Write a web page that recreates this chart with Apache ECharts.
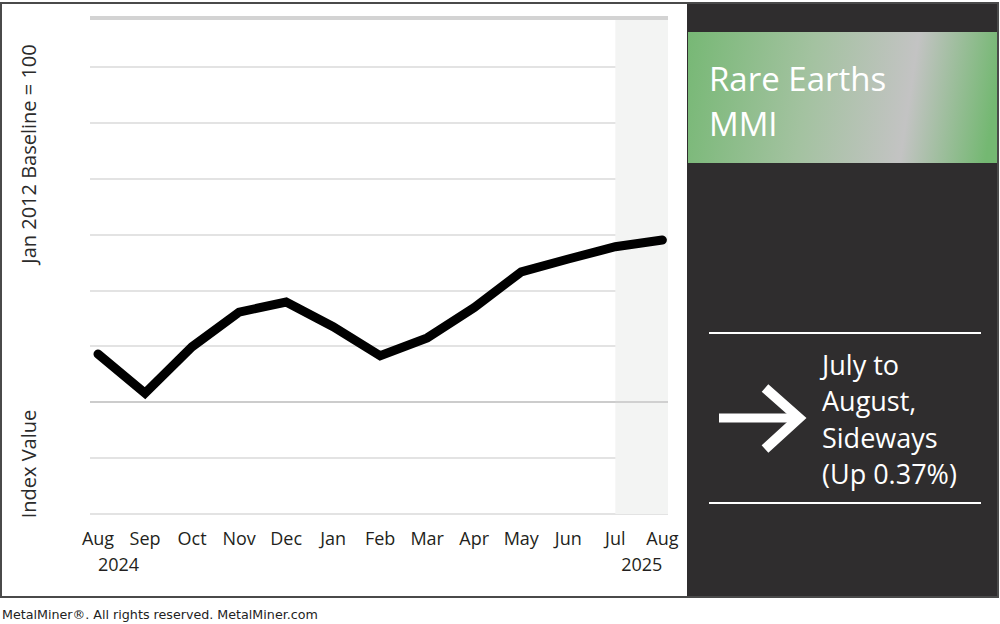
<!DOCTYPE html>
<html>
<head>
<meta charset="utf-8">
<script src="https://cdn.jsdelivr.net/npm/echarts@6/dist/echarts.min.js"></script>
<style>
html,body{margin:0;padding:0;background:#fff;}
#chart{width:1000px;height:624px;}
</style>
</head>
<body>
<div id="chart"></div>
<script>
// ---- data ----
const months = ['Aug','Sep','Oct','Nov','Dec','Jan','Feb','Mar','Apr','May','Jun','Jul','Aug'];
const years = ['2024','','','','','','','','','','','','2025'];
const indexValues = [28.6, 21.6, 29.9, 36.1, 37.9, 33.5, 28.3, 31.5, 36.9, 43.3, 45.6, 47.8, 49.0];
const titleLines = ['Rare Earths', 'MMI'];
const noteLines = ['July to', 'August,', 'Sideways', '(Up 0.37%)'];
const yTitleTop = 'Jan 2012 Baseline = 100';
const yTitleBottom = 'Index Value';
const footer = 'MetalMiner\u00AE. All rights reserved. MetalMiner.com';
const highlightFrom = 11; // Jul

const seriesData = indexValues.map((v, i) => [i, v]);
const yearTicks = years.map((y, i) => y ? i : null).filter(v => v !== null);
const X_MIN = -0.17, X_MAX = 12.12, Y_MAX = 88.7;

const chart = echarts.init(document.getElementById('chart'), null, {renderer: 'svg'});

const graphics = [
  {type: 'rect', z: 50, shape: {x: 687, y: 3, width: 311, height: 595}, style: {fill: '#2f2d2e'}},
  {type: 'rect', z: 51, shape: {x: 688, y: 32, width: 310, height: 131},
    style: {fill: new echarts.graphic.LinearGradient(688, 32, 998, 79, [
      {offset: 0, color: '#77b875'},
      {offset: 0.4, color: '#a3c2a0'},
      {offset: 0.73, color: '#c3c3c3'},
      {offset: 1, color: '#74b872'}
    ], true)}},
  {type: 'rect', z: 60, shape: {x: 1, y: 3, width: 997, height: 594}, style: {fill: 'none', stroke: '#4a4a4a', lineWidth: 2}},
  {type: 'line', z: 52, shape: {x1: 709, y1: 333, x2: 981, y2: 333}, style: {stroke: '#ffffff', lineWidth: 2}},
  {type: 'line', z: 52, shape: {x1: 709, y1: 503, x2: 981, y2: 503}, style: {stroke: '#ffffff', lineWidth: 2}},
  {type: 'line', z: 52, shape: {x1: 719, y1: 418, x2: 797, y2: 418}, style: {stroke: '#ffffff', lineWidth: 9}},
  {type: 'polyline', z: 52, shape: {points: [[765, 388], [799, 418], [765, 449]]}, style: {stroke: '#ffffff', lineWidth: 10, fill: 'none', lineJoin: 'miter'}},
  {type: 'text', z: 55, x: 28, y: 154, rotation: Math.PI / 2,
    style: {text: yTitleTop, font: '20px "Open Sans"', fill: '#2b2b2b', align: 'center', verticalAlign: 'middle'}},
  {type: 'text', z: 55, x: 28, y: 464, rotation: Math.PI / 2,
    style: {text: yTitleBottom, font: '20px "Open Sans"', fill: '#2b2b2b', align: 'center', verticalAlign: 'middle'}},
  {type: 'text', z: 55, x: 2, y: 614,
    style: {text: footer, font: '12.7px "DejaVu Sans"', fill: '#222', align: 'left', verticalAlign: 'middle'}}
];
titleLines.forEach((t, i) => graphics.push({type: 'text', z: 55, x: 709, y: 78 + i * 45,
  style: {text: t, font: '33px "Open Sans"', fill: '#ffffff', align: 'left', verticalAlign: 'middle'}}));
noteLines.forEach((t, i) => graphics.push({type: 'text', z: 55, x: 822, y: 364 + i * 36.5,
  style: {text: t, font: '27px "Open Sans"', fill: '#ffffff', align: 'left', verticalAlign: 'middle'}}));

const labelFont = {fontFamily: 'Open Sans', fontSize: 18, color: '#231f20'};

chart.setOption({
  animation: false,
  backgroundColor: '#ffffff',
  grid: {left: 90, right: 332, top: 18, bottom: 110},
  xAxis: [{
    type: 'value', min: X_MIN, max: X_MAX,
    axisLine: {show: false}, axisTick: {show: false}, splitLine: {show: false},
    axisLabel: Object.assign({
      customValues: months.map((m, i) => i),
      showMinLabel: true, showMaxLabel: true, hideOverlap: false,
      formatter: v => months[v],
      margin: 15
    }, labelFont)
  }, {
    type: 'value', min: X_MIN, max: X_MAX, position: 'bottom', offset: 0,
    axisLine: {show: false}, axisTick: {show: false}, splitLine: {show: false},
    axisLabel: Object.assign({
      customValues: yearTicks,
      showMinLabel: true, showMaxLabel: true, hideOverlap: false,
      formatter: v => years[v],
      margin: 41, alignMinLabel: 'left', alignMaxLabel: 'right'
    }, labelFont)
  }],
  yAxis: {
    type: 'value', min: 0, max: Y_MAX, interval: 10,
    axisLine: {show: false}, axisTick: {show: false}, axisLabel: {show: false},
    splitLine: {lineStyle: {color: '#dadada', width: 1.5}}
  },
  series: [{
    type: 'line',
    data: seriesData,
    symbol: 'none',
    lineStyle: {color: '#000000', width: 9, cap: 'round', join: 'miter'},
    markArea: {
      silent: true,
      itemStyle: {color: '#f3f4f3'},
      data: [[{xAxis: highlightFrom}, {xAxis: X_MAX}]]
    },
    markLine: {
      silent: true, symbol: 'none', label: {show: false},
      data: [
        {yAxis: Y_MAX, lineStyle: {color: '#d3d3d3', width: 4, type: 'solid'}},
        {yAxis: 20, lineStyle: {color: '#c4c4c4', width: 1.5, type: 'solid'}}
      ]
    },
    z: 10
  }],
  graphic: graphics
});
</script>
</body>
</html>
